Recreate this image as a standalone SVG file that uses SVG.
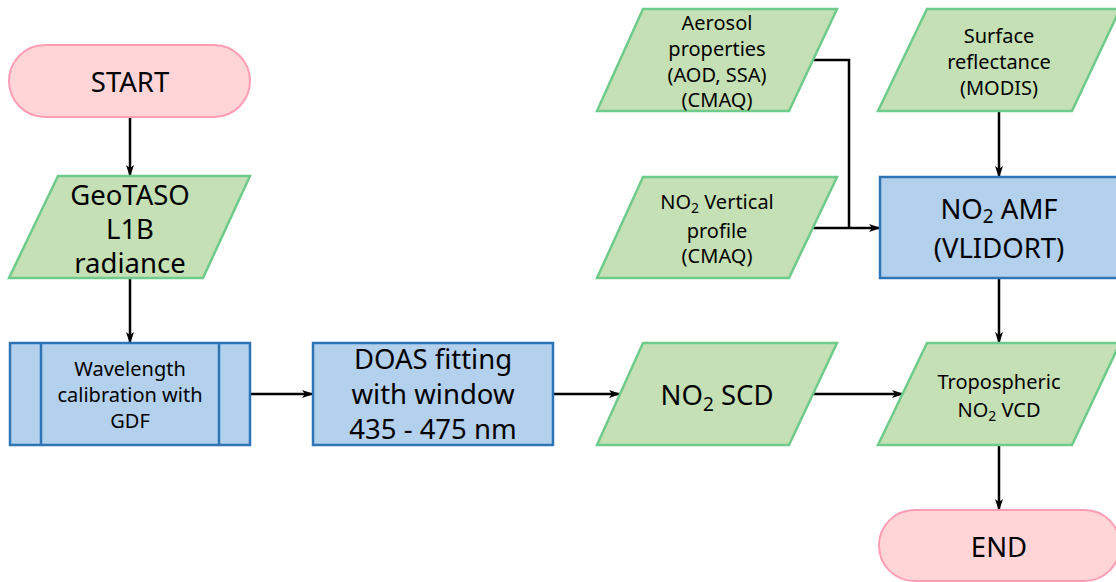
<svg xmlns="http://www.w3.org/2000/svg" width="1116" height="582" viewBox="0 0 1116 582">
<style>
text{font-family:"Noto Sans","Open Sans","Liberation Sans",sans-serif;fill:#000;text-anchor:middle}
.big{font-size:27.5px}
.sm{font-size:20px}
.term{fill:#FFD5D8;stroke:#FF9DB5;stroke-width:2}
.io{fill:#C5E0B4;stroke:#6FCB8A;stroke-width:2.5}
.proc{fill:#B3D0EC;stroke:#2E75B6;stroke-width:2.5}
.con{fill:none;stroke:#000;stroke-width:2.5}
</style>
<defs>
<marker id="ah" markerWidth="12" markerHeight="8" refX="11" refY="4" orient="auto" markerUnits="userSpaceOnUse">
<path d="M0,0 L12,4 L0,8 L3,4 Z" fill="#000"/>
</marker>
</defs>
<g id="connectors">
<path class="con" marker-end="url(#ah)" d="M130,117 V176"/>
<path class="con" marker-end="url(#ah)" d="M130,278 V343"/>
<path class="con" marker-end="url(#ah)" d="M250,394 H313"/>
<path class="con" marker-end="url(#ah)" d="M553,394 H620"/>
<path class="con" marker-end="url(#ah)" d="M813,394 H903"/>
<path class="con" marker-end="url(#ah)" d="M999,445 V510"/>
<path class="con" marker-end="url(#ah)" d="M999,278 V343"/>
<path class="con" marker-end="url(#ah)" d="M999,111 V177"/>
<path class="con" d="M813,60 H849 V228"/>
<path class="con" marker-end="url(#ah)" d="M813,228 H880"/>
</g>
<g id="start">
<rect class="term" x="9" y="45" width="241" height="72" rx="36"/>
<text class="big" x="130" y="92">START</text>
</g>
<g id="geotaso">
<polygon class="io" points="58,176 250,176 203,278 9,278"/>
<text class="big" x="130" y="205">GeoTASO</text>
<text class="big" x="130" y="239">L1B</text>
<text class="big" x="130" y="273">radiance</text>
</g>
<g id="wavelength">
<rect class="proc" x="10" y="343" width="240" height="102"/>
<line class="proc" x1="41" y1="343" x2="41" y2="445"/>
<line class="proc" x1="219" y1="343" x2="219" y2="445"/>
<text class="sm" x="130" y="376">Wavelength</text>
<text class="sm" x="130" y="402">calibration with</text>
<text class="sm" x="130" y="428">GDF</text>
</g>
<g id="doas">
<rect class="proc" x="313" y="343" width="240" height="102"/>
<text class="big" x="433" y="369">DOAS fitting</text>
<text class="big" x="433" y="404">with window</text>
<text class="big" x="433" y="439">435 - 475 nm</text>
</g>
<g id="no2scd">
<polygon class="io" points="643,343 837,343 789,445 597,445"/>
<text class="big" x="717" y="405">NO<tspan font-size="19" dy="6">2</tspan><tspan dy="-6"> SCD</tspan></text>
</g>
<g id="tropospheric">
<polygon class="io" points="927,343 1120,343 1072,445 878,445"/>
<text class="sm" x="999" y="389">Tropospheric</text>
<text class="sm" x="999" y="417">NO<tspan font-size="14" dy="4">2</tspan><tspan dy="-4"> VCD</tspan></text>
</g>
<g id="end">
<rect class="term" x="879" y="510" width="241" height="71" rx="35.5"/>
<text class="big" x="999" y="557">END</text>
</g>
<g id="amf">
<rect class="proc" x="880" y="177" width="240" height="101"/>
<text class="big" x="999" y="219">NO<tspan font-size="19" dy="4">2</tspan><tspan dy="-4"> AMF</tspan></text>
<text class="big" x="999" y="258">(VLIDORT)</text>
</g>
<g id="surface">
<polygon class="io" points="927,9 1120,9 1072,111 878,111"/>
<text class="sm" x="999" y="43">Surface</text>
<text class="sm" x="999" y="69">reflectance</text>
<text class="sm" x="999" y="95">(MODIS)</text>
</g>
<g id="aerosol">
<polygon class="io" points="643,9 837,9 789,111 597,111"/>
<text class="sm" x="717" y="30">Aerosol</text>
<text class="sm" x="717" y="56">properties</text>
<text class="sm" x="717" y="82">(AOD, SSA)</text>
<text class="sm" x="717" y="107">(CMAQ)</text>
</g>
<g id="profile">
<polygon class="io" points="643,177 837,177 789,278 597,278"/>
<text class="sm" x="717" y="209">NO<tspan font-size="14" dy="4">2</tspan><tspan dy="-4"> Vertical</tspan></text>
<text class="sm" x="717" y="238">profile</text>
<text class="sm" x="717" y="263">(CMAQ)</text>
</g>
</svg>
